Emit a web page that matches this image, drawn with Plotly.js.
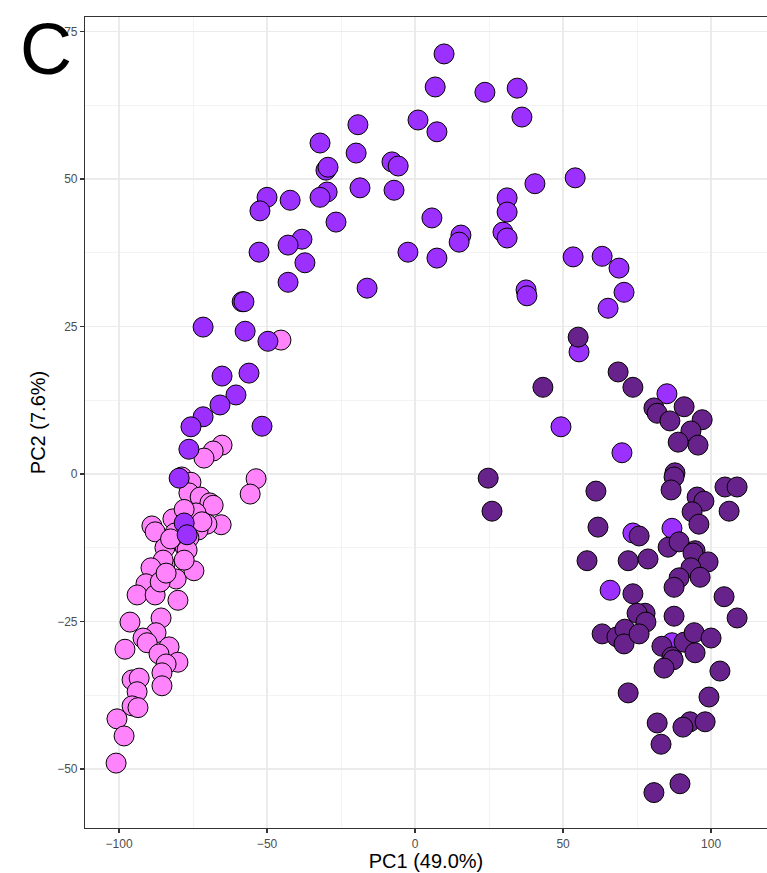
<!DOCTYPE html>
<html>
<head>
<meta charset="utf-8">
<script src="https://cdn.plot.ly/plotly-3.0.1.min.js"></script>
<style>html,body{margin:0;padding:0;background:#fff;}#chart{width:767px;height:873px;}</style>
</head>
<body>
<div id="chart"></div>
<script>
// Group 1 (pink)
const pinkX = [-45.3,-65.2,-68.2,-71.3,-78.8,-75.7,-53.7,-55.7,-76.4,-72.6,-69.3,-68.2,-74.0,-65.5,-88.9,-87.8,-81.8,-70.3,-73.3,-81.1,-84.5,-77.7,-82.6,-78.0,-72.0,-76.4,
  -77.0,-84.5,-85.1,-89.2,-80.7,-74.7,-90.9,-93.9,-87.8,-86.1,-80.1,-96.3,-85.8,-87.5,-91.9,-90.5,-98.0,-83.1,-86.5,-80.1,-84.1,-85.5,-85.5,-95.6,-93.2,-93.9,-95.6,-93.6,-100.7,-98.3,-101.0,-84.1,-78.0];
const pinkY = [22.7,4.9,3.9,2.7,-0.5,-1.4,-0.8,-3.4,-3.2,-3.9,-4.9,-5.3,-6.6,-8.6,-8.8,-9.8,-7.6,-8.5,-9.5,-10.0,-12.5,-12.4,-11.0,-6.0,-8.1,-10.8,
  -12.9,-15.4,-14.6,-15.9,-17.8,-16.4,-18.6,-20.5,-20.5,-18.3,-21.4,-25.1,-24.4,-26.9,-27.8,-28.6,-29.7,-29.3,-30.5,-31.9,-32.2,-33.7,-35.9,-34.9,-34.6,-36.9,-39.3,-39.6,-41.5,-44.4,-49.0,-16.8,-14.6];

// Group 2 (purple)
const purpleX = [9.8,6.8,23.6,34.5,36.1,7.4,1.0,-19.3,-32.1,-19.9,-7.8,-5.7,-30.1,-29.4,-29.7,-32.1,-18.6,-7.1,40.5,31.1,31.1,29.7,31.1,15.5,14.9,5.7,7.4,-2.4,54.1,37.5,37.8,53.4,63.2,68.9,70.6,65.2,55.4,49.3,69.9,85.1,65.9,86.8,86.8,73.6,
  -16.2,-26.7,-50.0,-52.4,-42.2,-38.2,-42.9,-37.2,-52.7,-42.9,-58.4,-57.8,-71.6,-57.4,-49.7,-65.2,-56.1,-60.5,-65.9,-71.6,-75.7,-51.7,-76.4,-79.7,-78.0,-77.0];
const purpleY = [71.2,65.6,64.7,65.4,60.5,58.0,60.0,59.2,56.1,54.4,52.9,52.2,51.5,52.0,47.8,46.9,48.5,48.1,49.2,46.8,44.4,41.0,40.0,40.5,39.3,43.4,36.6,37.6,50.2,31.2,30.2,36.8,36.9,34.9,30.8,28.1,20.7,8.0,3.6,13.6,-19.7,-9.2,-28.6,-10.0,
  31.5,42.7,46.9,44.6,46.4,39.8,38.8,35.8,37.6,32.5,29.2,29.2,24.9,24.2,22.5,16.6,17.1,13.4,11.7,9.7,8.0,8.1,4.2,-0.7,-8.3,-10.3];

// Group 3 (dark purple)
const darkX = [55.1,43.2,68.6,73.6,80.7,81.8,86.1,90.9,97.0,93.2,88.9,95.6,87.8,87.5,86.5,61.1,61.8,104.7,108.8,106.1,95.3,97.6,93.6,95.9,75.7,85.5,89.2,94.6,58.1,72.0,78.7,93.9,99.0,93.2,89.2,87.5,96.3,73.6,104.4,108.8,77.7,75.0,78.0,87.5,63.2,68.2,70.9,70.6,75.7,83.4,86.8,87.2,84.1,90.9,94.3,94.6,100.0,103.0,72.0,99.3,81.8,92.9,90.5,98.0,83.1,89.5,80.7,24.7,26.0];
const darkY = [23.2,14.7,17.3,14.7,11.2,10.3,9.0,11.4,9.2,7.3,5.4,4.9,0.2,-0.5,-2.7,-2.9,-9.0,-2.2,-2.2,-6.3,-3.9,-4.6,-6.4,-8.5,-10.5,-12.4,-11.5,-13.0,-14.7,-14.7,-14.4,-13.4,-14.9,-15.9,-17.6,-19.2,-17.5,-20.3,-20.8,-24.4,-23.6,-23.6,-25.1,-24.1,-27.1,-27.6,-26.3,-28.8,-27.1,-29.2,-31.0,-31.5,-32.9,-28.5,-26.9,-30.3,-27.8,-33.4,-37.1,-37.8,-42.2,-42.0,-42.9,-42.0,-45.8,-52.5,-54.0,-0.7,-6.3];

const xTitle = 'PC1 (49.0%)';
const yTitle = 'PC2 (7.6%)';
const panelLabel = 'C';

function mk(x, y, color) {
  return {type: 'scatter', mode: 'markers', x: x, y: y, hoverinfo: 'skip',
    marker: {size: 20, color: color, line: {color: '#000000', width: 1}}};
}

const FONT = 'Liberation Sans, Arial, sans-serif';
const gridC = '#EBEBEB';

const layout = {
  width: 767, height: 873,
  margin: {l: 85, r: 0, t: 17, b: 45},
  paper_bgcolor: '#ffffff', plot_bgcolor: '#ffffff',
  showlegend: false,
  font: {family: FONT, color: '#4D4D4D', size: 12},
  xaxis: {
    range: [-111.5, 118.9], tickvals: [-100, -50, 0, 50, 100], zeroline: false,
    showgrid: true, gridcolor: gridC, gridwidth: 1.1,
    minor: {tickvals: [-75, -25, 25, 75], showgrid: true, gridcolor: gridC, gridwidth: 0.6, ticks: ''},
    showline: true, linecolor: '#333333', linewidth: 1.1, mirror: true,
    ticks: 'outside', ticklen: 4, tickcolor: '#333333', tickwidth: 1.1,
    tickfont: {family: FONT, size: 12, color: '#4D4D4D'},
    title: {text: xTitle, font: {family: FONT, size: 20, color: '#000000'}, standoff: 2}
  },
  yaxis: {
    range: [-60, 77.46], tickvals: [-50, -25, 0, 25, 50, 75], zeroline: false,
    showgrid: true, gridcolor: gridC, gridwidth: 1.1,
    minor: {tickvals: [-37.5, -12.5, 12.5, 37.5, 62.5], showgrid: true, gridcolor: gridC, gridwidth: 0.6, ticks: ''},
    showline: true, linecolor: '#333333', linewidth: 1.1, mirror: false,
    ticks: 'outside', ticklen: 4, tickcolor: '#333333', tickwidth: 1.1,
    tickfont: {family: FONT, size: 12, color: '#4D4D4D'},
    title: {text: yTitle, font: {family: FONT, size: 20, color: '#000000'}, standoff: 6}
  },
  annotations: [{
    text: panelLabel, xref: 'paper', yref: 'paper', x: -0.0575, y: 0.961,
    xanchor: 'center', yanchor: 'middle', showarrow: false,
    font: {family: FONT, size: 72, color: '#000000'}
  }]
};

Plotly.newPlot('chart', [mk(pinkX, pinkY, '#FF83FA'), mk(purpleX, purpleY, '#9B30FF'), mk(darkX, darkY, '#68228B')], layout, {displayModeBar: false, staticPlot: true});
</script>
</body>
</html>
